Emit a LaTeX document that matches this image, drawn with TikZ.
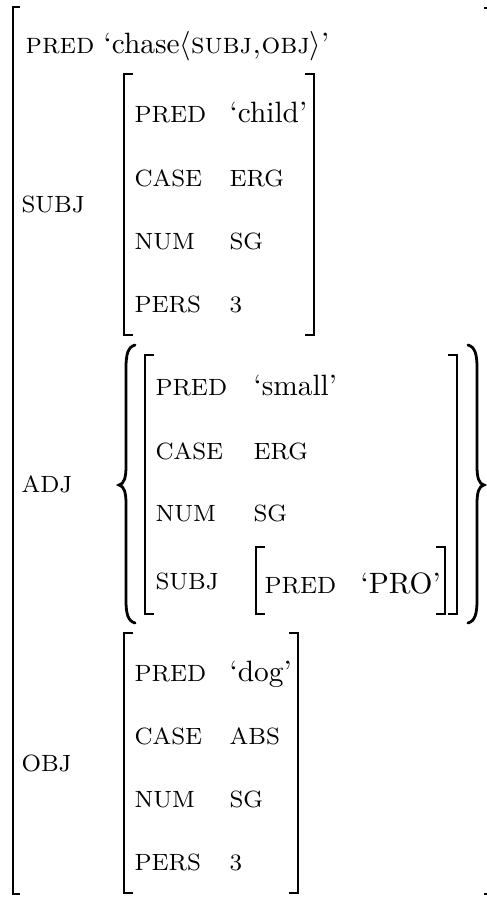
\documentclass[tikz,border=0pt]{standalone}
\begin{document}
\begin{tikzpicture}[x=0.34pt,y=-0.34pt,
  attr/.style={anchor=base west,inner sep=0pt,font=\footnotesize},
  val/.style={anchor=base west,inner sep=0pt},
  brk/.style={line width=0.7pt},
  brc/.style={line width=0.95pt,line cap=round}]
\useasboundingbox (0,0) rectangle (487,897);
% outer bracket
\draw[brk] (20,7) -- (13,7) -- (13,894) -- (20,894);
\draw[brk] (484,8) -- (487,8);
\draw[brk] (484,894) -- (487,894);
% top row
\node[val] (p0) at (25,53) {\textsc{pred}};
\node[val] (v0) at (103,53) {`chase$\langle$\textsc{subj,obj}$\rangle$'};
% SUBJ
\node[attr] (subj) at (21,212) {SUBJ};
\draw[brk] (133,74) -- (124,74) -- (124,335) -- (133,335);
\draw[brk] (305,74) -- (314,74) -- (314,335) -- (305,335);
\node[attr] (s1a) at (134,122) {PRED};
\node[val]  (s1v) at (229,122) {`child'};
\node[attr] (s2a) at (134,186) {CASE};
\node[attr] (s2v) at (229,186) {ERG};
\node[attr] (s3a) at (134,249) {NUM};
\node[attr] (s3v) at (229,249) {SG};
\node[attr] (s4a) at (134,312) {PERS};
\node[attr] (s4v) at (229,312) {3};
% ADJ
\node[attr] (adj) at (21,492) {ADJ};
\draw[brc] (135,345) .. controls (128,347) and (126,354) .. (126,368) -- (126,466)
  .. controls (126,478) and (124,484) .. (119,485)
  .. controls (124,486) and (126,492) .. (126,504) -- (126,600)
  .. controls (126,614) and (128,621) .. (135,623);
\draw[brc] (468,345) .. controls (475,347) and (477,354) .. (477,368) -- (477,466)
  .. controls (477,478) and (479,484) .. (484,485)
  .. controls (479,486) and (477,492) .. (477,504) -- (477,600)
  .. controls (477,614) and (475,621) .. (468,623);
\draw[brk] (154,355) -- (145,355) -- (145,614) -- (154,614);
\draw[brk] (448,355) -- (457,355) -- (457,614) -- (448,614);
\node[attr] (a1a) at (155,395) {PRED};
\node[val]  (a1v) at (253,395) {`small'};
\node[attr] (a2a) at (155,459) {CASE};
\node[attr] (a2v) at (253,459) {ERG};
\node[attr] (a3a) at (155,521) {NUM};
\node[attr] (a3v) at (253,521) {SG};
\node[attr] (a4a) at (155,589) {SUBJ};
\draw[brk] (265,547) -- (256,547) -- (256,614) -- (265,614);
\draw[brk] (436,547) -- (445,547) -- (445,614) -- (436,614);
\node[attr] (n1a) at (264,593) {PRED};
\node[val]  (n1v) at (360,593) {`PRO'};
% OBJ
\node[attr] (obj) at (21,771) {OBJ};
\draw[brk] (133,633) -- (124,633) -- (124,893) -- (133,893);
\draw[brk] (289,633) -- (298,633) -- (298,893) -- (289,893);
\node[attr] (o1a) at (134,681) {PRED};
\node[val]  (o1v) at (229,681) {`dog'};
\node[attr] (o2a) at (134,744) {CASE};
\node[attr] (o2v) at (229,744) {ABS};
\node[attr] (o3a) at (134,807) {NUM};
\node[attr] (o3v) at (229,807) {SG};
\node[attr] (o4a) at (134,870) {PERS};
\node[attr] (o4v) at (229,870) {3};
\end{tikzpicture}
\end{document}
